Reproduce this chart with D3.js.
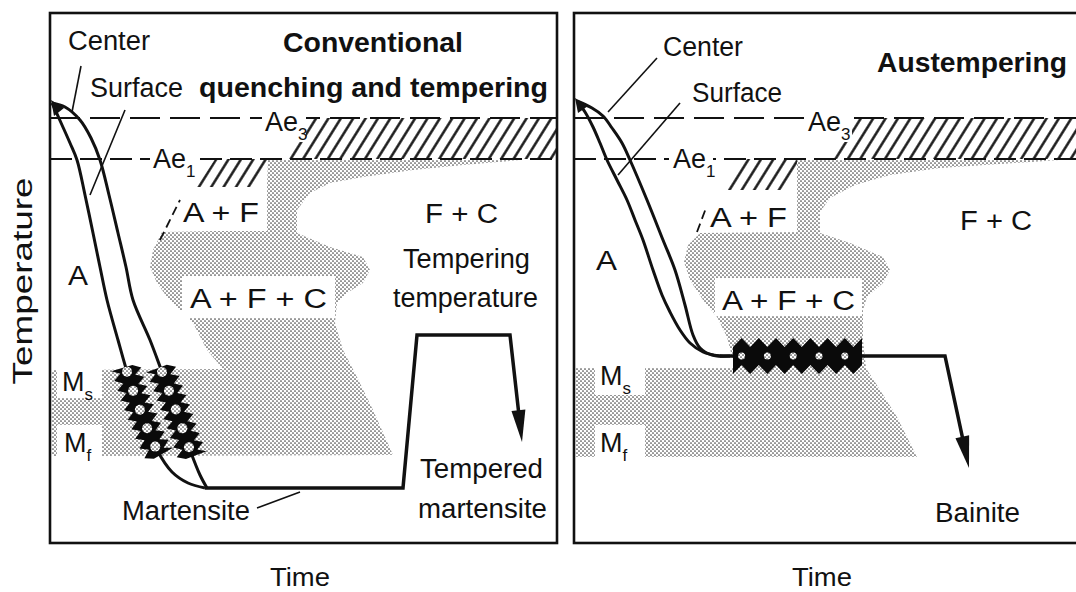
<!DOCTYPE html>
<html><head><meta charset="utf-8">
<script src="https://cdn.jsdelivr.net/npm/d3@7"></script>
<style>
html,body{margin:0;padding:0;background:#fff;}
svg{display:block;}
text{font-family:'Liberation Sans',Arial,sans-serif;fill:#111;}
</style></head><body>
<svg id="chart" width="1076" height="592"></svg>
<script>
// ---------------- DATA (arbitrary time / temperature units) ----------------
const TIME_MAX = 507, TEMP_MAX = 530;
const criticalNames = ["Ae3", "Ae1"];
const criticalTemps = [425, 384];

// Conventional quenching and tempering
const qtSurface = [[2,440],[12,418],[20,400],[27,383],[35,348],[43,310],[50,276],[57,243],[68,203],[78,168],[90,133],[107,93],[122,71],[138,60],[155,55]];
const qtCenter  = [[2,440],[15,436],[30,423],[41,405],[50,383],[59,348],[68,310],[76,276],[83,243],[100,203],[112,171],[126,133],[140,93],[150,68],[157,55]];
const qtPath    = [[155,55],[353,55],[367,208],[460,208],[472,101]];
const qtStipple = [[218,383],[470,383],[413,378],[363,373],[313,366],[280,360],[260,350],[247,333],[247,310],[280,296],[313,286],[320,273],[313,260],[297,250],[287,240],[285,220],[293,193],[307,166],[323,133],[343,88],[2,87],[2,173],[173,174],[157,193],[143,220],[130,233],[117,246],[107,260],[100,276],[103,293],[112,311],[217,313],[217,358]];
const qtHatchUpper = [[256,425],[507,425],[507,384],[238,384]];
const qtHatchLower = [[165,384],[222,384],[200,355],[146,355]];
const qtStartBlob = [[1,443],[14,435],[4,427]];
const qtLeaders = [[[22,431],[31,477]], [[75,433],[40,348]], [[207,35],[250,51]]];
const qtFerriteDash = [[110,303],[130,343]];

// Austempering
const auSurface = [[3,442],[11,431],[19,416],[26,400],[33,383],[43,363],[53,343],[61,323],[69,303],[79,273],[88,248],[96,231],[106,213],[116,200],[129,191],[146,187]];
const auCenter  = [[3,442],[18,435],[29,427],[38,415],[48,400],[56,383],[73,343],[89,303],[101,273],[111,238],[119,208],[126,195],[138,188],[156,187]];
const auPath    = [[146,187],[371,187],[395,75]];
const auStipple = [[223,383],[486,383],[426,379],[366,375],[316,368],[281,358],[256,345],[246,331],[246,310],[276,300],[309,286],[316,273],[309,260],[293,246],[289,233],[289,203],[292,175],[306,153],[323,126],[343,86],[2,86],[2,175],[161,175],[153,206],[143,226],[129,243],[116,263],[110,281],[114,298],[126,310],[223,311],[223,356]];
const auHatchUpper = [[280,425],[506,425],[506,384],[258,384]];
const auHatchLower = [[171,384],[228,384],[208,353],[153,353]];
const auStartBlob = [[1,445],[14,437],[4,430]];
const auLeaders = [[[34,431],[83,485]], [[44,368],[106,440]]];
const auFerriteDash = [[123,311],[132,335]];

// text labels: [text, subscript, x, baseline, textLength, bold]
const qtTexts = [
  ["Center","",68,50,82,0],["Surface","",90,97,93,0],
  ["Conventional","",283,52,180,1],["quenching and tempering","",199,97,349,1],
  ["Ae","3",265,131,0,0],["Ae","1",153,168,0,0],
  ["A + F","",183,222,76,0],["F + C","",425,223,73,0],
  ["Tempering","",403,268,127,0],["temperature","",393,307,145,0],
  ["A","",68,285,20,0],["A + F + C","",190,308,137,0],
  ["M","s",62,391,0,0],["M","f",64,452,0,0],
  ["Tempered","",420,478,123,0],["martensite","",418,518,129,0],
  ["Martensite","",122,520,128,0]
];
const auTexts = [
  ["Center","",663,56,80,0],["Surface","",692,102,90,0],
  ["Austempering","",877,72,190,1],
  ["Ae","3",808,131,0,0],["Ae","1",673,168,0,0],
  ["A + F","",710,227,77,0],["F + C","",960,230,72,0],
  ["A","",596,270,21,0],["A + F + C","",722,310,133,0],
  ["M","s",600,385,0,0],["M","f",600,452,0,0],
  ["Bainite","",935,522,85,0]
];
// white label backgrounds [x, y, w, h]
const qtBoxes = [[175,187,92,44],[182,276,153,42],[57,364,45,34],[57,425,45,45],[262,108,44,34],[150,146,44,32]];
const auBoxes = [[702,190,93,42],[715,278,147,38],[595,357,50,38],[595,425,50,45],[804,108,48,34],[669,146,44,32]];

// ---------------- LAYOUT ----------------
const svg = d3.select("#chart");
const yScale = d3.scaleLinear().domain([0, TEMP_MAX]).range([543, 13]);
const xQT = d3.scaleLinear().domain([0, TIME_MAX]).range([50, 557]);
const xAU = d3.scaleLinear().domain([0, TIME_MAX]).range([574, 1081]);

const defs = svg.append("defs");
const hp = defs.append("pattern").attr("id","hatch").attr("width",10.5).attr("height",10.5)
  .attr("patternUnits","userSpaceOnUse").attr("patternTransform","rotate(32)");
hp.append("line").attr("x1",5.25).attr("x2",5.25).attr("y1",0).attr("y2",10.5).attr("stroke","#111").attr("stroke-width",2.4);
const dp = defs.append("pattern").attr("id","dots").attr("width",4).attr("height",4).attr("patternUnits","userSpaceOnUse");
dp.append("rect").attr("width",4).attr("height",4).attr("fill","#fff");
dp.append("circle").attr("cx",1).attr("cy",1).attr("r",0.85).attr("fill","#444");
dp.append("circle").attr("cx",3).attr("cy",3).attr("r",0.85).attr("fill","#444");

function drawPanel(x, d) {
  const g = svg.append("g");
  const poly = d3.line().x(p => x(p[0])).y(p => yScale(p[1]));
  const smooth = d3.line().x(p => x(p[0])).y(p => yScale(p[1])).curve(d3.curveCatmullRom.alpha(0.5));

  g.append("path").attr("d", poly(d.hatchUpper) + "Z").attr("fill","url(#hatch)");
  g.append("path").attr("d", poly(d.hatchLower) + "Z").attr("fill","url(#hatch)");
  g.append("path").attr("d", poly(d.stipple) + "Z").attr("fill","url(#dots)");

  criticalTemps.forEach((T, i) => {
    g.append("line").attr("x1", x(0)).attr("x2", x(TIME_MAX)).attr("y1", yScale(T)).attr("y2", yScale(T))
      .attr("stroke","#111").attr("stroke-width",1.8).attr("stroke-dasharray", i === 0 ? "30,10" : "22,8");
  });

  d.boxes.forEach(b => g.append("rect").attr("x",b[0]).attr("y",b[1]).attr("width",b[2]).attr("height",b[3]).attr("fill","#fff"));

  g.append("path").attr("d", poly(d.ferriteDash)).attr("stroke","#111").attr("stroke-width",1.8)
    .attr("stroke-dasharray","9,5").attr("fill","none");

  const curves = [d.surface, d.center].map(c => g.append("path").attr("d", smooth(c))
      .attr("fill","none").attr("stroke","#111").attr("stroke-width",3));

  function jagged(node, test, rOut, rIn, step, holeEvery, holeR) {
    const L = node.getTotalLength();
    let s0 = null, s1 = null;
    for (let s = 0; s <= L; s += 0.5) {
      const p = node.getPointAtLength(s);
      if (test(p)) { if (s0 === null) s0 = s; s1 = s; }
    }
    if (s0 === null) return;
    const left = [], right = [], holes = [];
    let i = 0;
    for (let s = s0; s <= s1 + 0.01; s += step, i++) {
      const p = node.getPointAtLength(s);
      const q = node.getPointAtLength(Math.min(L, s + 0.5));
      const pp = node.getPointAtLength(Math.max(0, s - 0.5));
      let tx = q.x - pp.x, ty = q.y - pp.y; const n = Math.hypot(tx, ty) || 1; tx /= n; ty /= n;
      const nx = -ty, ny = tx;
      const r1 = i % 2 ? rIn : rOut, r2 = i % 2 ? rOut : rIn;
      left.push([p.x + nx * r1, p.y + ny * r1]);
      right.push([p.x - nx * r2, p.y - ny * r2]);
      if (holeEvery && i % holeEvery === 1) holes.push([p.x, p.y]);
    }
    const pts = left.concat(right.reverse());
    g.append("path").attr("d", "M" + pts.map(p => p.join(",")).join("L") + "Z").attr("fill","#0a0a0a");
    holes.forEach(h => {
      g.append("circle").attr("cx",h[0]).attr("cy",h[1]).attr("r",holeR).attr("fill","url(#dots)");
    });
  }
  d.zig(curves, jagged);

  g.append("path").attr("d", poly(d.blob) + "Z").attr("fill","#111");

  const pts = d.path.map(p => [x(p[0]), yScale(p[1])]);
  const tip = pts[pts.length - 1], prev = pts[pts.length - 2];
  let dx = tip[0] - prev[0], dy = tip[1] - prev[1]; const dl = Math.hypot(dx, dy); dx /= dl; dy /= dl;
  const base = [tip[0] - dx * 32, tip[1] - dy * 32];
  const linePts = pts.slice(0, -1).concat([[base[0] + dx * 2, base[1] + dy * 2]]);
  const pathNode = g.append("path").attr("d", "M" + linePts.map(p => p.join(",")).join("L"))
    .attr("fill","none").attr("stroke","#111").attr("stroke-width",3.5).attr("stroke-linejoin","miter");
  g.append("path").attr("d", `M${tip[0]},${tip[1]}L${base[0] - dy * 7},${base[1] + dx * 7}L${base[0] + dy * 7},${base[1] - dx * 7}Z`).attr("fill","#111");
  d.pathZig && d.pathZig(pathNode, jagged);

  d.leaders.forEach(l => g.append("path").attr("d", poly(l)).attr("stroke","#111").attr("stroke-width",1.6).attr("fill","none"));

  g.append("rect").attr("x", x(0)).attr("y", yScale(TEMP_MAX)).attr("width", x(TIME_MAX) - x(0))
    .attr("height", yScale(0) - yScale(TEMP_MAX)).attr("fill","none").attr("stroke","#111").attr("stroke-width",2.6);

  d.texts.forEach(t => {
    const el = g.append("text").attr("x", t[2]).attr("y", t[3]).attr("font-size", 27)
      .attr("font-weight", t[5] ? "bold" : "normal");
    if (t[1]) {
      el.append("tspan").text(t[0]);
      el.append("tspan").attr("font-size", 17).attr("dy", 9).text(t[1]);
    } else {
      el.attr("textLength", t[4]).attr("lengthAdjust","spacingAndGlyphs").text(t[0]);
    }
  });
}

drawPanel(xQT, {
  surface: qtSurface, center: qtCenter, path: qtPath, stipple: qtStipple,
  hatchUpper: qtHatchUpper, hatchLower: qtHatchLower, blob: qtStartBlob,
  leaders: qtLeaders, ferriteDash: qtFerriteDash, texts: qtTexts, boxes: qtBoxes,
  zig: (curves, jagged) => {
    curves.forEach(c => jagged(c.node(), p => p.y >= 367 && p.y <= 458, 15, 7, 5, 4, 5));
  }
});
drawPanel(xAU, {
  surface: auSurface, center: auCenter, path: auPath, stipple: auStipple,
  hatchUpper: auHatchUpper, hatchLower: auHatchLower, blob: auStartBlob,
  leaders: auLeaders, ferriteDash: auFerriteDash, texts: auTexts, boxes: auBoxes,
  zig: () => {},
  pathZig: (node, jagged) => jagged(node.node(), p => p.x >= 733 && p.x <= 862, 18, 9, 8.6, 3, 3.5)
});

svg.append("text").attr("x", 300).attr("y", 586).attr("text-anchor","middle").attr("font-size",26)
  .attr("textLength",60).attr("lengthAdjust","spacingAndGlyphs").text("Time");
svg.append("text").attr("x", 822).attr("y", 586).attr("text-anchor","middle").attr("font-size",26)
  .attr("textLength",60).attr("lengthAdjust","spacingAndGlyphs").text("Time");
svg.append("text").attr("transform","translate(32,281) rotate(-90)").attr("text-anchor","middle").attr("font-size",27)
  .attr("textLength",207).attr("lengthAdjust","spacingAndGlyphs").text("Temperature");
</script>
</body></html>
